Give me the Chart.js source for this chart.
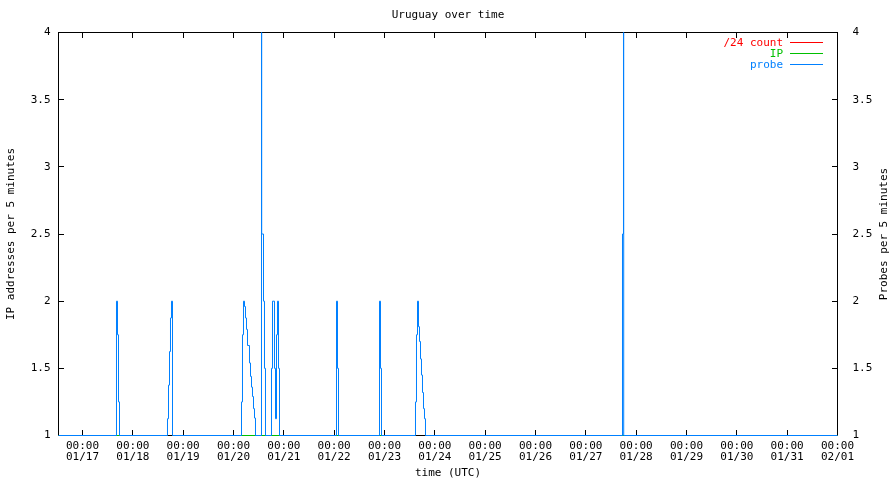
<!DOCTYPE html>
<html><head><meta charset="utf-8">
<script src="https://cdn.jsdelivr.net/npm/chart.js@4.4.1/dist/chart.umd.min.js"></script>
<style>html,body{margin:0;padding:0;background:#fff}#wrap{width:896px;height:480px}</style>
</head><body><div id="wrap"><canvas id="c" width="896" height="480"></canvas></div>
<script>
// ---- texts ----
const chartTitle = 'Uruguay over time';
const xTitle = 'time (UTC)';
const yTitle = 'IP addresses per 5 minutes';
const y2Title = 'Probes per 5 minutes';

// ---- x axis: hours since 01/17 00:00 (UTC) ----
const xMin = -11.44;
const xMax = 360;
const tickHours = [0, 24, 48, 72, 96, 120, 144, 168, 192, 216, 240, 264, 288, 312, 336, 360];
const tickTimes = ['00:00','00:00','00:00','00:00','00:00','00:00','00:00','00:00','00:00','00:00','00:00','00:00','00:00','00:00','00:00','00:00'];
const tickDates = ['01/17','01/18','01/19','01/20','01/21','01/22','01/23','01/24','01/25','01/26','01/27','01/28','01/29','01/30','01/31','02/01'];

// ---- y axes ----
const yMin = 1, yMax = 4, yStep = 0.5;

// ---- series (step changes: at hour h the value becomes v) ----
const probeHours = [-11.44,
  16.21, 16.69, 17.17, 17.65,
  40.53, 41.01, 41.49, 41.96, 42.44, 42.92,
  75.82, 76.29, 76.77, 77.25, 77.72, 78.20, 78.68, 79.63, 80.11, 80.59, 81.06, 81.54, 82.02, 82.49,
  85.35, 85.45, 86.31, 86.78, 87.26,
  90.12, 90.60, 91.55, 92.03, 92.51, 92.98, 93.46, 93.94,
  121.12, 121.59, 122.07,
  141.62, 142.09, 142.57,
  158.78, 159.26, 159.74, 160.21, 160.69, 161.17, 161.64, 162.12, 162.60, 163.07, 163.55,
  257.48, 257.96, 258.06,
  360];
const probeValues = [1,
  2, 1.75, 1.25, 1,
  1.125, 1.375, 1.625, 1.875, 2, 1,
  1.25, 1.75, 2, 1.96, 1.875, 1.79, 1.67, 1.54, 1.44, 1.36, 1.29, 1.2, 1.13, 1,
  4, 2.5, 2, 1.5, 1,
  1.5, 2, 1.5, 1.125, 1.75, 2, 1.5, 1,
  2, 1.5, 1,
  2, 1.5, 1,
  1.25, 1.75, 2, 1.81, 1.70, 1.57, 1.45, 1.32, 1.2, 1.125, 1,
  2.5, 4, 1,
  1];
const ipHours = [-11.44, 40.5, 40.55, 42.95, 158.7, 158.75, 163.6, 360];
const ipValues = [1, 1, null, 1, 1, null, 1, 1];
const countHours = [-11.44, 40.5, 40.55, 42.95, 158.7, 158.75, 163.6, 360];
const countValues = [1, 1, null, 1, 1, null, 1, 1];

const FONT = '"DejaVu Sans Mono", "Liberation Mono", monospace';
const toPts = (hs, vs) => hs.map((h, i) => ({x: h, y: vs[i]}));

const framePlugin = {
  id: 'frame',
  beforeDatasetsDraw(chart) {
    const {ctx, chartArea: a, scales} = chart;
    ctx.save();
    ctx.strokeStyle = '#000';
    ctx.lineWidth = 1;
    ctx.strokeRect(a.left, a.top, a.right - a.left, a.bottom - a.top);
    ctx.beginPath();
    scales.x.ticks.forEach(t => {
      const px = Math.floor(scales.x.getPixelForValue(t.value)) + 0.5;
      ctx.moveTo(px, a.bottom); ctx.lineTo(px, a.bottom - 5.5);
      ctx.moveTo(px, a.top); ctx.lineTo(px, a.top + 5.5);
    });
    scales.y.ticks.forEach(t => {
      const py = Math.floor(scales.y.getPixelForValue(t.value)) + 0.5;
      ctx.moveTo(a.left, py); ctx.lineTo(a.left + 5.5, py);
    });
    scales.y2.ticks.forEach(t => {
      const py = Math.floor(scales.y2.getPixelForValue(t.value)) + 0.5;
      ctx.moveTo(a.right, py); ctx.lineTo(a.right - 5.5, py);
    });
    ctx.stroke();
    ctx.restore();
  },
  afterDraw(chart) {
    const {ctx, chartArea: a} = chart;
    ctx.save();
    ctx.font = '11px ' + FONT;
    ctx.fillStyle = '#000';
    ctx.textAlign = 'center';
    ctx.textBaseline = 'middle';
    ctx.translate(884, (a.top + a.bottom) / 2);
    ctx.rotate(-Math.PI / 2);
    ctx.fillText(y2Title, 0, 0);
    ctx.restore();
    ctx.save();
    ctx.font = '11px ' + FONT;
    ctx.textAlign = 'right';
    ctx.textBaseline = 'middle';
    [0, 1, 2].forEach((di, k) => {
      const ds = chart.data.datasets[di];
      const y = 43 + k * 11;
      ctx.fillStyle = ds.borderColor;
      ctx.fillText(ds.label, 783, y);
      ctx.strokeStyle = ds.borderColor;
      ctx.lineWidth = 1;
      ctx.beginPath();
      ctx.moveTo(790, y - 0.5); ctx.lineTo(823, y - 0.5);
      ctx.stroke();
    });
    ctx.restore();
  }
};

new Chart(document.getElementById('c'), {
  type: 'line',
  data: {
    datasets: [
      {label: '/24 count', data: toPts(countHours, countValues), borderColor: '#ff0000', yAxisID: 'y', order: 2},
      {label: 'IP', data: toPts(ipHours, ipValues), borderColor: '#00c000', yAxisID: 'y', order: 1},
      {label: 'probe', data: toPts(probeHours, probeValues), borderColor: '#0080ff', yAxisID: 'y2', order: 0}
    ].map(d => Object.assign(d, {stepped: true, borderWidth: 1, pointRadius: 0, fill: false, spanGaps: false, tension: 0, clip: 2}))
  },
  options: {
    responsive: false,
    animation: false,
    devicePixelRatio: 1,
    layout: {padding: 0},
    plugins: {
      legend: {display: false},
      tooltip: {enabled: false},
      title: {
        display: true, text: chartTitle, color: '#000',
        font: {family: FONT, size: 11, weight: 'normal', lineHeight: 1},
        padding: {top: 9.5, bottom: 12}
      }
    },
    scales: {
      x: {
        type: 'linear', min: xMin, max: xMax,
        afterBuildTicks: s => { s.ticks = tickHours.map(v => ({value: v})); },
        afterFit: s => { s.height = 44.5; },
        grid: {display: false, drawTicks: false, tickLength: 0},
        border: {display: false},
        ticks: {
          color: '#000', padding: 5.5, maxRotation: 0, autoSkip: false,
          font: {family: FONT, size: 11, lineHeight: 1},
          callback: (v, i) => [tickTimes[i], tickDates[i]]
        },
        title: {display: true, text: xTitle, color: '#000', font: {family: FONT, size: 11, lineHeight: 1}, padding: {top: 4, bottom: 1.5}}
      },
      y: {
        type: 'linear', position: 'left', min: yMin, max: yMax,
        afterFit: s => { s.width = 58.5; },
        grid: {display: false, drawTicks: false, tickLength: 0},
        border: {display: false},
        ticks: {stepSize: yStep, color: '#000', padding: 8, font: {family: FONT, size: 11, lineHeight: 1}, callback: v => String(v)},
        title: {display: true, text: yTitle, color: '#000', font: {family: FONT, size: 11, lineHeight: 1}, padding: {top: 5.5, bottom: 0}}
      },
      y2: {
        type: 'linear', position: 'right', min: yMin, max: yMax,
        afterFit: s => { s.width = 58.5; },
        grid: {display: false, drawTicks: false, tickLength: 0},
        border: {display: false},
        ticks: {stepSize: yStep, color: '#000', padding: 15, font: {family: FONT, size: 11, lineHeight: 1}, callback: v => String(v)}
      }
    }
  },
  plugins: [framePlugin]
});
</script>
</body></html>
